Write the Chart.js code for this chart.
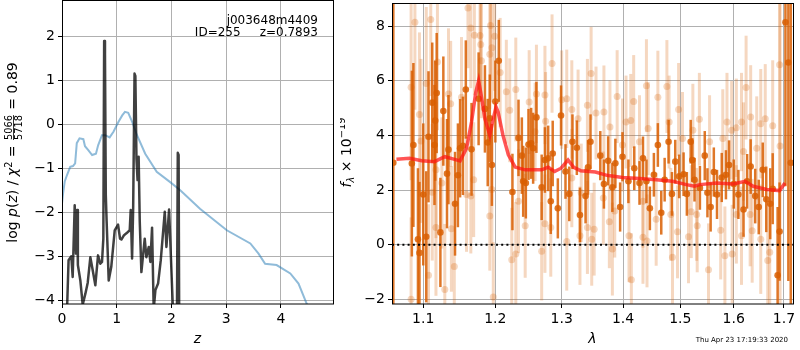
<!DOCTYPE html>
<html><head><meta charset="utf-8">
<script src="https://cdn.jsdelivr.net/npm/chart.js@4.4.0/dist/chart.umd.min.js"></script>
<style>
html,body{margin:0;padding:0;background:#fff;}
#wrap{position:relative;width:800px;height:350px;overflow:hidden;background:#fff;}
#c1{position:absolute;left:0;top:0;width:340px;height:350px;}
#c2{position:absolute;left:340px;top:0;width:460px;height:350px;}
</style></head><body>
<div id="wrap"><canvas id="c1" width="340" height="350"></canvas><canvas id="c2" width="460" height="350"></canvas></div>
<script>
// ---------- left panel data ----------
const zTicks = [0, 1, 2, 3, 4];
const logpTicks = [-4, -3, -2, -1, 0, 1, 2];
const chiZ = [0.0, 0.02, 0.05, 0.09, 0.15, 0.2, 0.24, 0.27, 0.32, 0.39, 0.42, 0.48, 0.55, 0.62, 0.66, 0.73, 0.79, 0.87, 0.94, 1.03, 1.1, 1.15, 1.21, 1.27, 1.37, 1.52, 1.73, 1.97, 2.16, 2.52, 3.01, 3.44, 3.59, 3.71, 3.92, 4.17, 4.32, 4.47, 4.55];
const chiLogp = [-1.8, -1.57, -1.3, -1.16, -0.97, -0.95, -0.89, -0.43, -0.32, -0.34, -0.5, -0.59, -0.70, -0.67, -0.48, -0.25, -0.25, -0.30, -0.17, 0.05, 0.2, 0.28, 0.26, 0.09, -0.25, -0.67, -1.08, -1.31, -1.5, -1.92, -2.41, -2.71, -2.94, -3.17, -3.2, -3.39, -3.62, -4.08, -4.3];
const pzZ = [0.09, 0.12, 0.17, 0.195, 0.232, 0.256, 0.274, 0.29, 0.335, 0.378, 0.427, 0.47, 0.518, 0.561, 0.609, 0.658, 0.70, 0.731, 0.755, 0.77, 0.785, 0.80, 0.815, 0.853, 0.90, 0.963, 1.024, 1.06, 1.085, 1.133, 1.176, 1.237, 1.255, 1.28, 1.30, 1.325, 1.34, 1.36, 1.38, 1.40, 1.42, 1.45, 1.511, 1.541, 1.584, 1.614, 1.645, 1.675, 1.706, 1.755, 1.804, 1.877, 1.907, 1.956, 2.029, 2.10, 2.115, 2.13, 2.14];
const pzLogp = [-4.3, -3.09, -3.0, -3.47, -1.84, -2.94, -1.95, -3.2, -3.55, -4.1, -3.85, -3.6, -3.02, -3.32, -3.66, -2.98, -3.17, -3.13, -2.6, 1.89, 1.6, -1.61, -2.2, -3.55, -3.24, -2.41, -2.28, -2.6, -2.62, -2.52, -2.48, -2.41, -1.95, -3.05, -1.9, 1.15, 1.1, -0.78, -1.27, -0.74, -2.2, -3.36, -2.6, -3.02, -2.79, -3.13, -2.35, -4.2, -3.77, -3.62, -3.09, -1.99, -2.79, -1.94, -4.3, -4.3, -0.65, -0.7, -4.3];

// ---------- right panel data ----------
const lamTicks = [1.1, 1.2, 1.3, 1.4, 1.5, 1.6, 1.7];
const fluxTicks = [-2, 0, 2, 4, 6, 8];
const darkLam = [1.061, 1.085, 1.087, 1.093, 1.095, 1.100, 1.104, 1.107, 1.112, 1.115, 1.116, 1.118, 1.123, 1.127, 1.132, 1.134, 1.143, 1.147, 1.150, 1.154, 1.158, 1.166, 1.176, 1.185, 1.189, 1.192, 1.195, 1.200, 1.205, 1.225, 1.234, 1.239, 1.241, 1.245, 1.249, 1.253, 1.256, 1.261, 1.269, 1.274, 1.279, 1.283, 1.286, 1.294, 1.299, 1.306, 1.312, 1.317, 1.324, 1.329, 1.338, 1.342, 1.346, 1.362, 1.368, 1.375, 1.382, 1.387, 1.395, 1.399, 1.409, 1.419, 1.428, 1.434, 1.440, 1.446, 1.453, 1.460, 1.466, 1.472, 1.479, 1.485, 1.491, 1.498, 1.506, 1.512, 1.519, 1.522, 1.526, 1.536, 1.545, 1.550, 1.556, 1.562, 1.568, 1.577, 1.585, 1.591, 1.600, 1.609, 1.619, 1.626, 1.633, 1.642, 1.649, 1.657, 1.664, 1.672, 1.677, 1.687, 1.691, 1.703, 1.709, 1.714];
const darkFlux = [3.0, 2.97, 3.65, 0.2, -0.3, 1.84, 0.29, 3.95, 5.2, 3.65, 4.54, 5.55, 0.45, 4.89, 2.6, 3.48, 1.5, 2.54, 3.53, 3.62, 5.68, 3.49, 5.34, 4.97, 3.74, 4.63, 2.92, 5.24, 6.73, 1.93, 3.91, 3.26, 2.32, 2.26, 3.67, 3.71, 3.53, 4.66, 2.1, 3.1, 3.16, 1.59, 3.34, 1.33, 4.73, 2.68, 1.86, 3.77, 3.55, 1.09, 1.78, 2.83, 3.77, 3.26, 2.22, 3.07, 2.1, 2.98, 1.38, 3.22, 2.32, 2.8, 2.26, 3.16, 2.32, 1.33, 2.56, 3.65, 1.17, 2.38, 3.77, 1.86, 3.04, 2.5, 2.58, 1.86, 3.77, 3.1, 2.38, 2.08, 3.26, 1.9, 1.38, 2.66, 1.84, 2.46, 2.56, 2.92, 2.22, 1.84, 1.29, 2.32, 2.86, 1.78, 1.38, 2.74, 1.66, 1.5, 2.05, -1.12, 0.48, 8.14, 6.67, 3.0];
const darkErr = [20, 3.4, 3.0, 2.6, 2.6, 2.6, 2.4, 2.4, 2.2, 2.2, 2.2, 2.2, 2.0, 2.0, 2.0, 2.0, 1.9, 1.9, 1.8, 1.8, 1.8, 1.7, 1.7, 1.6, 1.6, 1.6, 1.5, 1.5, 1.5, 1.4, 1.4, 1.4, 1.3, 1.3, 1.3, 1.3, 1.3, 1.3, 1.2, 1.2, 1.2, 1.2, 1.2, 1.1, 1.1, 1.0, 1.0, 1.0, 1.0, 1.0, 1.0, 1.0, 1.0, 0.9, 0.9, 0.9, 0.9, 0.9, 0.9, 0.9, 0.8, 0.8, 0.8, 0.8, 0.8, 0.8, 0.8, 0.8, 0.8, 0.8, 0.8, 0.8, 0.8, 0.8, 0.8, 0.8, 0.8, 0.8, 0.8, 0.8, 0.9, 0.9, 0.9, 0.9, 0.9, 0.9, 0.9, 0.9, 0.9, 0.9, 1.0, 1.0, 1.0, 1.0, 1.0, 1.0, 1.2, 1.3, 1.3, 2.5, 1.8, 6, 8, 20];
const lightLam = [1.084, 1.084, 1.089, 1.095, 1.097, 1.104, 1.107, 1.110, 1.112, 1.117, 1.117, 1.119, 1.125, 1.129, 1.134, 1.137, 1.138, 1.142, 1.152, 1.159, 1.161, 1.165, 1.165, 1.169, 1.170, 1.178, 1.179, 1.180, 1.192, 1.192, 1.193, 1.195, 1.195, 1.197, 1.199, 1.207, 1.216, 1.221, 1.224, 1.230, 1.230, 1.234, 1.244, 1.250, 1.259, 1.261, 1.269, 1.274, 1.274, 1.275, 1.283, 1.285, 1.300, 1.308, 1.308, 1.316, 1.316, 1.326, 1.329, 1.331, 1.341, 1.341, 1.347, 1.348, 1.352, 1.355, 1.367, 1.368, 1.377, 1.378, 1.382, 1.386, 1.390, 1.399, 1.405, 1.410, 1.413, 1.414, 1.418, 1.428, 1.434, 1.434, 1.440, 1.441, 1.443, 1.457, 1.460, 1.476, 1.480, 1.483, 1.486, 1.495, 1.497, 1.504, 1.515, 1.520, 1.523, 1.530, 1.531, 1.535, 1.552, 1.554, 1.575, 1.579, 1.583, 1.587, 1.596, 1.597, 1.605, 1.605, 1.615, 1.615, 1.619, 1.624, 1.632, 1.633, 1.636, 1.645, 1.653, 1.653, 1.662, 1.667, 1.671, 1.677, 1.691, 1.692];
const lightFlux = [5.76, -2.0, 8.14, 4.77, 3.8, 5.9, -1.12, 8.24, 1.92, 2.74, 0.63, 6.69, 2.26, -1.64, 5.52, 5.16, 0.58, -0.8, 5.4, 1.84, 8.66, 7.93, 1.78, 2.38, 7.67, 7.66, 7.33, 6.73, 6.97, 1.05, 8.02, 7.21, 2.02, -1.91, 7.63, 6.3, 5.6, 4.92, -0.55, 5.68, -0.34, 1.59, 0.69, 5.22, 4.13, 5.52, -0.24, 5.48, 0.77, 4.52, 0.63, 6.63, 5.31, 5.34, 0.12, 4.95, 2.44, 4.61, 0.33, 1.9, 5.1, 0.63, 6.27, 0.2, 0.57, 4.82, 1.71, 4.86, 0.84, 4.31, -0.16, 1.23, 5.42, 3.65, 4.49, 0.33, 4.55, -1.28, 5.24, 3.77, 0.27, 1.59, 5.82, 0.14, 4.25, 0.93, 5.4, 5.79, 4.49, 1.11, -0.46, 0.47, 4.95, 3.89, 0.29, 1.21, 4.19, 1.11, 0.69, 4.59, -0.92, 3.77, 0.53, 3.89, -0.4, 4.49, 4.19, -0.34, 4.28, 1.11, 4.49, 0.33, 3.41, 5.75, 1.11, 4.67, 0.51, 3.53, 4.43, 0.2, 4.61, -0.58, -0.28, 4.35, 6.59, 3.61];
const lightErr = [3.4, 3.0, 3.2, 3.0, 3.0, 2.8, 2.6, 2.8, 2.5, 2.5, 2.5, 2.5, 2.4, 2.4, 2.4, 2.3, 2.3, 2.3, 2.2, 2.1, 2.2, 2.2, 2.1, 2.1, 2.2, 2.1, 2.1, 2.1, 2.0, 2.0, 2.0, 2.0, 2.0, 2.0, 2.0, 2.0, 1.9, 1.9, 1.9, 1.9, 1.9, 1.9, 1.9, 1.9, 1.8, 1.8, 1.8, 1.8, 1.8, 1.8, 1.8, 1.8, 1.8, 1.8, 1.8, 1.8, 1.8, 1.8, 1.8, 1.8, 1.7, 1.7, 1.7, 1.7, 1.7, 1.7, 1.7, 1.7, 1.7, 1.7, 1.7, 1.7, 1.7, 1.7, 1.7, 1.7, 1.7, 1.7, 1.7, 1.7, 1.7, 1.7, 1.7, 1.7, 1.7, 1.7, 1.7, 1.7, 1.7, 1.7, 1.7, 1.7, 1.7, 1.7, 1.7, 1.7, 1.7, 1.7, 1.7, 1.7, 1.7, 1.7, 1.8, 1.8, 1.8, 1.8, 1.8, 1.8, 1.8, 1.8, 1.8, 1.8, 1.8, 1.9, 1.9, 1.9, 1.9, 1.9, 2.0, 2.0, 2.0, 2.1, 2.2, 2.4, 6, 6];
const modelLam = [1.065, 1.082, 1.098, 1.115, 1.129, 1.140, 1.150, 1.159, 1.166, 1.172, 1.176, 1.179, 1.185, 1.192, 1.197, 1.201, 1.204, 1.211, 1.219, 1.229, 1.244, 1.269, 1.279, 1.289, 1.299, 1.310, 1.319, 1.330, 1.354, 1.373, 1.399, 1.428, 1.457, 1.486, 1.511, 1.526, 1.536, 1.567, 1.599, 1.622, 1.638, 1.665, 1.691, 1.702];
const modelFlux = [3.13, 3.16, 3.07, 3.04, 3.22, 3.14, 3.07, 3.53, 4.49, 5.58, 6.0, 5.58, 4.61, 4.01, 4.61, 5.04, 4.86, 4.01, 3.29, 2.84, 2.74, 2.74, 2.84, 2.68, 2.8, 3.1, 2.83, 2.71, 2.66, 2.54, 2.46, 2.42, 2.38, 2.32, 2.2, 2.14, 2.2, 2.26, 2.22, 2.32, 2.14, 2.02, 1.98, 2.26];

// ---------- helpers ----------
const FF = "'DejaVu Sans'";
const gridColor = '#b0b0b0';
const tickFont = {family: FF, size: 14};
const fmt = v => (v < 0 ? '\u2212' + Math.abs(v) : String(v));
const xy = (xs, ys) => xs.map((x, i) => ({x: x, y: ys[i]}));
function noPad(s) { s.paddingTop = 0; s.paddingBottom = 0; s.paddingLeft = 0; s.paddingRight = 0; }

function axisCommon(ticksArr, cb) {
  return {
    afterBuildTicks: s => { s.ticks = ticksArr.map(v => ({value: v})); },
    grid: {color: gridColor, lineWidth: 1, tickColor: '#000', tickLength: 4, tickWidth: 1},
    border: {display: false},
    ticks: {font: tickFont, color: '#000', padding: 3, maxRotation: 0, autoSkip: false, callback: cb}
  };
}

const boxPlugin = {
  id: 'box',
  afterDatasetsDraw(chart) {
    const a = chart.chartArea, ctx = chart.ctx;
    ctx.save();
    ctx.strokeStyle = '#000'; ctx.lineWidth = 1;
    ctx.strokeRect(Math.round(a.left) + 0.5, Math.round(a.top) - 0.5, Math.round(a.right - a.left), Math.round(a.bottom - a.top) + 0.5);
    ctx.restore();
  }
};

const errPlugin = {
  id: 'errbars',
  beforeDatasetDraw(chart, args) {
    const ds = chart.data.datasets[args.index];
    if (!ds.errors) return;
    const meta = args.meta, ys = chart.scales.y, ctx = chart.ctx, a = chart.chartArea;
    ctx.save();
    ctx.beginPath(); ctx.rect(a.left, a.top, a.right - a.left, a.bottom - a.top); ctx.clip();
    ctx.strokeStyle = ds.errColor; ctx.lineWidth = ds.errWidth; ctx.lineCap = 'butt';
    meta.data.forEach((pt, i) => {
      const v = ds.data[i].y, e = ds.errors[i];
      ctx.beginPath();
      ctx.moveTo(pt.x, ys.getPixelForValue(v + e));
      ctx.lineTo(pt.x, ys.getPixelForValue(v - e));
      ctx.stroke();
    });
    ctx.restore();
  }
};

const zeroPlugin = {
  id: 'zero',
  afterDatasetsDraw(chart) {
    const a = chart.chartArea, ctx = chart.ctx, y0 = chart.scales.y.getPixelForValue(0);
    ctx.save();
    ctx.strokeStyle = '#000'; ctx.lineWidth = 2; ctx.setLineDash([2, 3.2]);
    ctx.beginPath(); ctx.moveTo(a.left, y0); ctx.lineTo(a.right, y0); ctx.stroke();
    ctx.restore();
  }
};

function drawRich(ctx, x, y, pieces) {
  ctx.save();
  ctx.translate(x, y);
  ctx.rotate(-Math.PI / 2);
  ctx.fillStyle = '#000'; ctx.textBaseline = 'alphabetic'; ctx.textAlign = 'left';
  const widths = pieces.map(p => {
    ctx.font = p.font;
    if (p.frac) return Math.max(ctx.measureText(p.frac[0]).width, ctx.measureText(p.frac[1]).width) + 2;
    return ctx.measureText(p.t).width;
  });
  const total = widths.reduce((a, b) => a + b, 0);
  let u = -total / 2;
  pieces.forEach((p, i) => {
    ctx.font = p.font;
    if (p.frac) {
      const w = widths[i];
      ctx.textAlign = 'center';
      ctx.fillText(p.frac[0], u + w / 2, p.bar - 1.6);
      ctx.fillText(p.frac[1], u + w / 2, p.bar + 1.6 + p.cap);
      ctx.fillRect(u + 1, p.bar - 0.4, w - 2, 0.8);
      ctx.textAlign = 'left';
    } else {
      ctx.fillText(p.t, u, p.dy || 0);
    }
    u += widths[i];
  });
  ctx.restore();
}

const N14 = "14px " + FF, I14 = "italic 14px " + FF, N10 = "9.8px " + FF, I10 = "italic 9.8px " + FF;

const leftText = {
  id: 'leftText',
  afterDraw(chart) {
    const ctx = chart.ctx;
    drawRich(ctx, 17, 152.5, [
      {t: 'log ', font: N14}, {t: 'p', font: I14}, {t: '(', font: N14}, {t: 'z', font: I14},
      {t: ') / ', font: N14}, {t: '\u03c7', font: I14}, {t: '2', font: N10, dy: -5.5},
      {t: ' = ', font: N14}, {frac: ['5066', '5718'], font: N10, bar: -3.5, cap: 7.1},
      {t: ' = 0.89', font: N14}
    ]);
    ctx.save();
    ctx.fillStyle = '#000'; ctx.textAlign = 'right'; ctx.textBaseline = 'alphabetic';
    ctx.font = "12px " + FF;
    ctx.fillText('j003648m4409', 318, 24);
    ctx.fillText('ID=255     z=0.7893', 318, 36);
    ctx.restore();
  }
};

const rightText = {
  id: 'rightText',
  afterDraw(chart) {
    const ctx = chart.ctx;
    drawRich(ctx, 11, 152.5, [
      {t: 'f', font: I14}, {t: '\u03bb', font: I10, dy: 3}, {t: ' \u00d7 10', font: N14},
      {t: '\u221219', font: N10, dy: -6}
    ]);
    ctx.save();
    ctx.fillStyle = '#000'; ctx.textAlign = 'right'; ctx.textBaseline = 'alphabetic';
    ctx.font = "7px " + FF;
    ctx.fillText('Thu Apr 23 17:19:33 2020', 448, 342);
    ctx.restore();
  }
};

// ---------- left chart ----------
const lx = axisCommon(zTicks, v => fmt(v));
Object.assign(lx, {type: 'linear', min: 0, max: 4.95, afterFit: s => { s.height = 46; noPad(s); },
  title: {display: true, text: 'z', color: '#000', font: {family: FF, size: 14, style: 'italic'}, padding: {top: 0, bottom: 2}}});
const ly = axisCommon(logpTicks, v => fmt(v));
Object.assign(ly, {type: 'linear', min: -4.085, max: 2.8, afterFit: s => { s.width = 62; noPad(s); }});

new Chart(document.getElementById('c1'), {
  type: 'line',
  data: {datasets: [
    {data: xy(pzZ, pzLogp), borderColor: 'rgba(0,0,0,0.75)', borderWidth: 2.5, pointRadius: 0, tension: 0, clip: 0, borderJoinStyle: 'round'},
    {data: xy(chiZ, chiLogp), borderColor: 'rgba(31,119,180,0.5)', borderWidth: 2, pointRadius: 0, tension: 0, clip: 0}
  ]},
  options: {
    responsive: false, animation: false, devicePixelRatio: 1,
    layout: {padding: {top: 1, right: 7, left: 0, bottom: 0}},
    plugins: {legend: {display: false}, tooltip: {enabled: false}},
    scales: {x: lx, y: ly}
  },
  plugins: [boxPlugin, leftText]
});

// ---------- right chart ----------
const rx = axisCommon(lamTicks, v => Number(v).toFixed(1));
Object.assign(rx, {type: 'logarithmic', min: 1.0593, max: 1.7186, afterFit: s => { s.height = 46; noPad(s); },
  title: {display: true, text: '\u03bb', color: '#000', font: {family: FF, size: 14, style: 'italic'}, padding: {top: 0, bottom: 2}}});
const ry = axisCommon(fluxTicks, v => fmt(v));
Object.assign(ry, {type: 'linear', min: -2.17, max: 8.81, afterFit: s => { s.width = 52; noPad(s); }});

new Chart(document.getElementById('c2'), {
  type: 'scatter',
  data: {datasets: [
    {data: xy(modelLam, modelFlux), showLine: true, borderColor: 'rgba(255,20,20,0.72)', borderWidth: 3.5, pointRadius: 0, tension: 0, clip: 0},
    {data: xy(darkLam, darkFlux), pointRadius: 3.3, pointBackgroundColor: 'rgba(217,95,2,0.85)', pointBorderWidth: 0, borderWidth: 0, clip: 0,
      errors: darkErr, errColor: 'rgba(217,95,2,0.85)', errWidth: 2.5},
    {data: xy(lightLam, lightFlux), pointRadius: 3.5, pointBackgroundColor: 'rgba(217,95,2,0.25)', pointBorderWidth: 0, borderWidth: 0, clip: 0,
      errors: lightErr, errColor: 'rgba(217,95,2,0.25)', errWidth: 3}
  ]},
  options: {
    responsive: false, animation: false, devicePixelRatio: 1,
    layout: {padding: {top: 1, right: 7, left: 0, bottom: 0}},
    plugins: {legend: {display: false}, tooltip: {enabled: false}},
    scales: {x: rx, y: ry}
  },
  plugins: [errPlugin, zeroPlugin, boxPlugin, rightText]
});
</script>
</body></html>
